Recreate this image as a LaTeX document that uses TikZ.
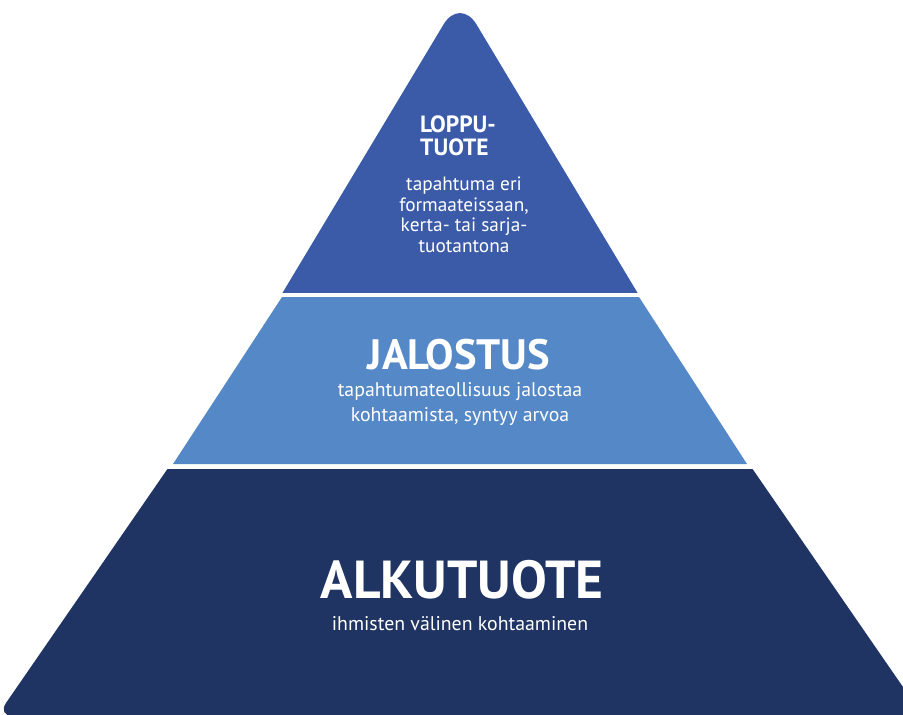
\documentclass[tikz,border=0pt]{standalone}
\usepackage{fontspec}
\setmainfont{PT Sans}
\definecolor{topc}{RGB}{59,91,168}
\definecolor{midc}{RGB}{85,136,198}
\definecolor{botc}{RGB}{31,52,98}
\tikzset{
  lbl/.style={text=white, inner sep=0pt, anchor=base},
  bigtitle/.style={lbl, font=\bfseries\fontsize{53.5}{56}\selectfont},
  midtitle/.style={lbl, font=\bfseries\fontsize{42.5}{44}\selectfont},
  toptitle/.style={lbl, anchor=north west, align=left, font=\bfseries\fontsize{23.5}{22.5}\selectfont},
  body/.style={lbl, font=\fontsize{19.8}{22}\selectfont},
  bodys/.style={lbl, font=\fontsize{19.3}{21}\selectfont},
}
\begin{document}
\begin{tikzpicture}[x=1pt,y=-1pt]
\useasboundingbox (0,0) rectangle (903,715);
% top band
\begin{scope}
\clip (0,0) rectangle (903,292.5);
\fill[topc, rounded corners=32pt] (460,-3) -- (760,497) -- (160,497) -- cycle;
\end{scope}
% middle band
\fill[midc] (282,297) -- (639,297) -- (747,464) -- (173,464) -- cycle;
% bottom band
\begin{scope}
\clip (0,469) rectangle (903,715);
\fill[botc, rounded corners=16pt] (460,45) -- (923,716) -- (-3,716) -- cycle;
\end{scope}
% texts
\node[toptitle] (t1) at (420,116) {LOPPU-\\TUOTE};
\node[bodys] (t3) at (464,190) {tapahtuma eri};
\node[bodys] (t4) at (464,211) {formaateissaan,};
\node[bodys] (t5) at (464,231) {kerta- tai sarja-};
\node[bodys] (t6) at (464,252) {tuotantona};
\node[midtitle] (m1) at (459,369) {JALOSTUS};
\node[body] (m2) at (460,396) {tapahtumateollisuus jalostaa};
\node[body] (m3) at (460,421) {kohtaamista, syntyy arvoa};
\node[bigtitle] (b1) at (462,598) {ALKUTUOTE};
\node[body] (b2) at (460,630) {ihmisten välinen kohtaaminen};
\end{tikzpicture}
\end{document}
